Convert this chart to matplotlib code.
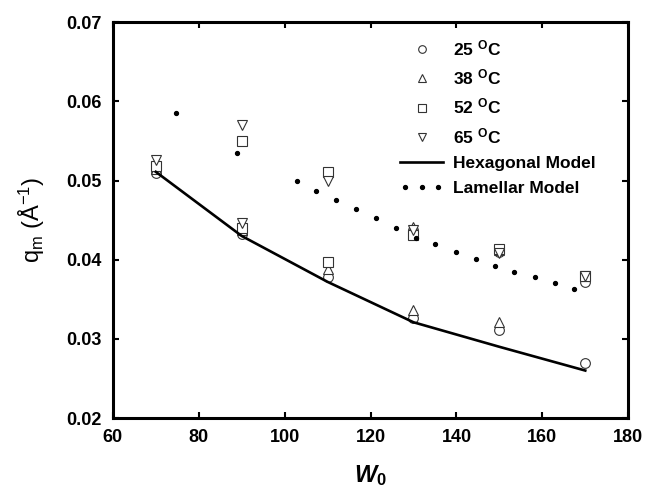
import matplotlib
matplotlib.use('Agg')
import matplotlib.pyplot as plt
from matplotlib.legend_handler import HandlerLine2D

plt.rcParams['font.family'] = ['Liberation Sans', 'DejaVu Sans']
plt.rcParams['font.weight'] = 'bold'
plt.rcParams['mathtext.fontset'] = 'custom'
plt.rcParams['mathtext.rm'] = 'Liberation Sans:bold'
plt.rcParams['mathtext.it'] = 'Liberation Sans:bold:italic'
plt.rcParams['mathtext.bf'] = 'Liberation Sans:bold'

# measured peak positions (two peaks for some samples)
x25 = [70, 90, 110, 130, 130, 150, 150, 170, 170]
q25 = [0.0510, 0.0432, 0.0378, 0.0326, 0.0437, 0.0311, 0.0410, 0.0270, 0.0372]
x38 = [70, 90, 110, 130, 130, 150, 150, 170]
q38 = [0.0514, 0.0437, 0.0388, 0.0336, 0.0441, 0.0321, 0.0412, 0.0380]
x52 = [70, 90, 90, 110, 110, 130, 150, 170]
q52 = [0.0518, 0.0440, 0.0550, 0.0397, 0.0511, 0.0431, 0.0413, 0.0379]
x65 = [70, 90, 90, 110, 130, 150, 170]
q65 = [0.0526, 0.0446, 0.0570, 0.0500, 0.0438, 0.0409, 0.0380]

# models
x_hex = [70, 90, 110, 130, 150, 170]
q_hex = [0.0511, 0.0430, 0.0372, 0.0321, 0.0290, 0.0260]
x_lam = [74.8, 88.8, 102.8, 107.3, 112.0, 116.6, 121.3, 126.0, 130.6,
         135.1, 139.8, 144.5, 149.0, 153.5, 158.2, 162.9, 167.3]
q_lam = [0.0585, 0.0535, 0.0499, 0.0487, 0.04753, 0.04635, 0.04521, 0.04403,
         0.0428, 0.0420, 0.0410, 0.0401, 0.0392, 0.0384, 0.0378, 0.0370, 0.0363]

fig = plt.figure(figsize=(6.45, 4.93), dpi=100)
ax = fig.add_axes([0.175, 0.152, 0.799, 0.803])

ec = '#333333'
mk = dict(linestyle='none', markersize=7, markerfacecolor='white',
          markeredgecolor=ec, markeredgewidth=0.8)
h1, = ax.plot(x25, q25, marker='o', label='25 $^{\\mathregular{O}}$C', **mk)
h2, = ax.plot(x38, q38, marker='^', label='38 $^{\\mathregular{O}}$C', **mk)
h3, = ax.plot(x52, q52, marker='s', label='52 $^{\\mathregular{O}}$C', **mk)
h4, = ax.plot(x65, q65, marker='v', label='65 $^{\\mathregular{O}}$C', **mk)
h5, = ax.plot(x_hex, q_hex, color='black', linewidth=1.9, label='Hexagonal Model')
h6, = ax.plot(x_lam, q_lam, linestyle='none', marker='o', markersize=2.8,
              color='black', label='Lamellar Model')

ax.set_xlim(60, 180)
ax.set_ylim(0.02, 0.07)
ax.set_xticks([60, 80, 100, 120, 140, 160, 180])
ax.set_yticks([0.02, 0.03, 0.04, 0.05, 0.06, 0.07])
ax.tick_params(direction='in', length=4, width=1.5, top=True, right=True,
               labelsize=13, pad=8)
for s in ax.spines.values():
    s.set_linewidth(2.2)

ax.set_xlabel('$W_0$', fontsize=17, labelpad=12)
ax.set_ylabel('q$_\\mathregular{m}$ (Å$^{\\mathregular{-1}}$)', fontsize=17, labelpad=14)

leg = ax.legend(handles=[h1, h2, h3, h4, h5, h6], loc='upper left',
                bbox_to_anchor=(0.557, 0.96), frameon=False, fontsize=12.5,
                handlelength=2.5, handletextpad=0.55, labelspacing=0.55,
                borderpad=0, borderaxespad=0, numpoints=1,
                handler_map={h6: HandlerLine2D(numpoints=3)})
for h in leg.legend_handles[:4]:
    h.set_markersize(5.5)

fig.savefig('out.png', dpi=100)
